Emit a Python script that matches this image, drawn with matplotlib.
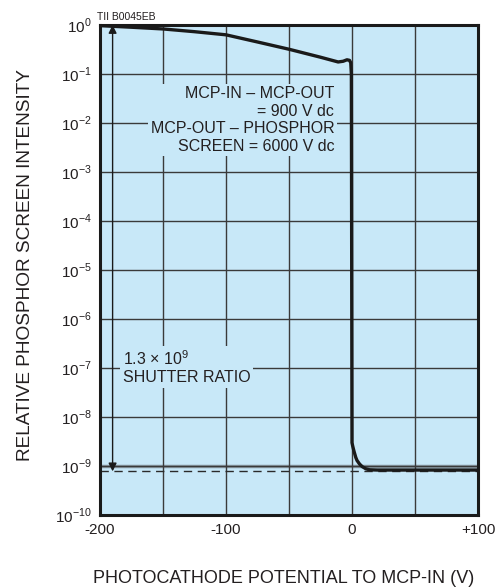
import numpy as np
import matplotlib
matplotlib.use("Agg")
import matplotlib.pyplot as plt
from matplotlib.ticker import FixedLocator

plt.rcParams['font.family'] = ['Liberation Sans', 'DejaVu Sans']

# Curve: potential (V) vs relative intensity
potential = [-200, -175, -150, -125, -100, -75, -50, -25, -11, -7, -4, -2,
             -1, -0.5, 0, 0.5, 1, 1.6, 3, 4, 6, 8, 11, 14, 20, 40, 60, 80, 100]
intensity = [0.97, 0.9, 0.83, 0.73, 0.63, 0.45, 0.32, 0.22, 0.176, 0.182,
             0.195, 0.19, 0.17, 0.1, 3e-9, 2.6e-9, 2.3e-9, 2.0e-9, 1.5e-9,
             1.3e-9, 1.1e-9, 0.98e-9, 0.88e-9, 0.84e-9, 0.83e-9, 0.83e-9,
             0.83e-9, 0.83e-9, 0.83e-9]

floor_level = 7.8e-10
decades = list(range(0, -11, -1))
x_ticks = [-200, -100, 0, 100]
x_tick_labels = ["-200", "-100", "0", "+100"]
x_grid = [-150, -100, -50, 0, 50]

text_color = "#231f20"
bg = "#c8e8f8"

fig = plt.figure(figsize=(5, 5.88), dpi=100)
ax = fig.add_axes([0.2, 0.124, 0.756, 0.8335])
ax.set_facecolor(bg)
ax.set_yscale("log")
ax.set_xlim(-200, 100)
ax.set_ylim(1e-10, 1)

# grid
for gx in x_grid:
    ax.axvline(gx, color="#3a3a3a", lw=1.0, zorder=1)
for d in decades[1:-1]:
    ax.axhline(10.0 ** d, color="#3a3a3a", lw=1.0, zorder=1)
ax.axhline(1e-9, color="#8a9aa4", lw=2.5, zorder=0.9)

# dashed floor
ax.axhline(floor_level, color="#2a2a2a", lw=1.0, ls=(0, (6, 4)), zorder=2)

# curve
ax.plot(potential, intensity, color="#1a1a1a", lw=2.4, zorder=4,
        solid_joinstyle="round")

# shutter ratio arrow
ax.annotate("", xy=(-190, floor_level), xytext=(-190, 1.0),
            arrowprops=dict(arrowstyle="<|-|>", color="#1a1a1a", lw=1.0,
                            shrinkA=0, shrinkB=0, mutation_scale=12),
            zorder=3)

ax.text(-14, 10 ** -1.94,
        "MCP-IN \u2013 MCP-OUT\n= 900 V dc\nMCP-OUT \u2013 PHOSPHOR\nSCREEN = 6000 V dc",
        ha="right", va="center", fontsize=11.5, color=text_color,
        linespacing=1.2, zorder=5,
        bbox=dict(facecolor=bg, edgecolor="none", pad=2))
ax.text(-182, 10 ** -6.98, "1.3 \u00d7 10$^{\\mathregular{9}}$\nSHUTTER RATIO",
        ha="left", va="center", fontsize=11.5, color=text_color,
        linespacing=1.2, zorder=5,
        bbox=dict(facecolor=bg, edgecolor="none", pad=2))

# ticks
ax.xaxis.set_major_locator(FixedLocator(x_ticks))
ax.set_xticklabels(x_tick_labels)
ax.yaxis.set_major_locator(FixedLocator([10.0 ** d for d in decades]))
ax.yaxis.set_minor_locator(FixedLocator([]))
ax.set_yticklabels([f"10$^{{\\mathregular{{{'-' if d < 0 else ''}{abs(d)}}}}}$"
                    for d in decades])
ax.tick_params(length=0, labelsize=11, colors=text_color, pad=6)

for s in ax.spines.values():
    s.set_linewidth(2.2)
    s.set_color("#1a1a1a")
    s.set_zorder(6)

ax.set_xlabel("PHOTOCATHODE POTENTIAL TO MCP-IN (V)", fontsize=13,
              color=text_color)
ax.xaxis.set_label_coords(0.487, -0.1286)
ax.xaxis.label.set_va("center")
ax.set_ylabel("RELATIVE PHOSPHOR SCREEN INTENSITY", fontsize=13.7,
              color=text_color)
ax.yaxis.set_label_coords(-0.198, 0.51)
ax.yaxis.label.set_va("center")

fig.text(0.194, 0.9626, "TII B0045EB", fontsize=7.5, color=text_color,
         ha="left", va="bottom")

fig.savefig("out.png", dpi=100)
